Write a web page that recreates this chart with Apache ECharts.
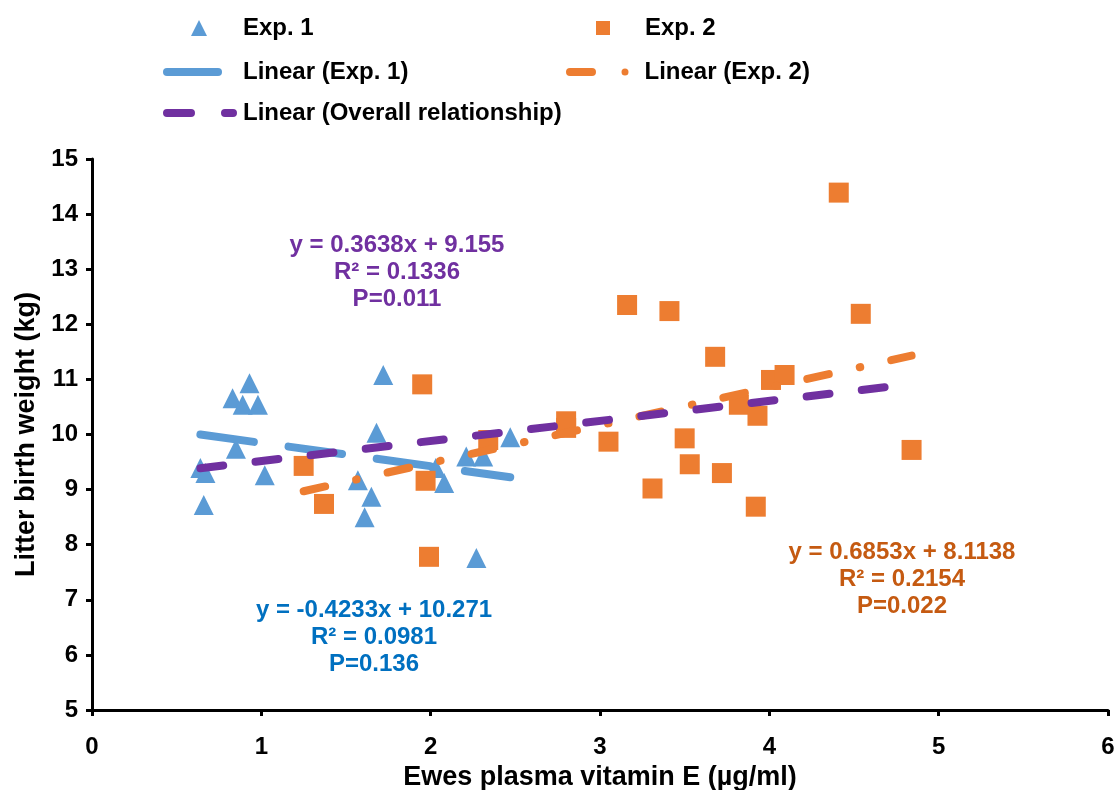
<!DOCTYPE html>
<html><head><meta charset="utf-8">
<script src="https://cdn.jsdelivr.net/npm/echarts@6/dist/echarts.min.js"></script>
<style>html,body{margin:0;padding:0;background:#fff}#c{width:1116px;height:790px}</style>
</head><body><div id="c"></div>
<script>
// Exp. 1 (triangles)
const exp1X = [0.64, 0.67, 0.66, 0.83, 0.93, 0.89, 0.98, 0.85, 1.02, 1.72, 1.68, 1.57, 1.65, 1.61, 2.27, 2.03, 2.08, 2.21, 2.31, 2.47];
const exp1Y = [9.39, 9.30, 8.72, 10.66, 10.93, 10.54, 10.54, 9.74, 9.26, 11.08, 10.03, 9.17, 8.87, 8.50, 7.76, 9.39, 9.12, 9.60, 9.60, 9.95];
// Exp. 2 (squares)
const exp2X = [1.25, 1.37, 1.95, 1.97, 1.99, 2.34, 2.80, 2.80, 3.05, 3.16, 3.41, 3.31, 3.50, 3.53, 3.72, 3.68, 3.82, 3.93, 4.01, 4.09, 3.92, 4.41, 4.54, 4.84];
const exp2Y = [9.43, 8.74, 10.91, 9.16, 7.78, 9.90, 10.24, 10.12, 9.87, 12.35, 12.24, 9.02, 9.93, 9.46, 9.30, 11.41, 10.54, 10.34, 10.99, 11.08, 8.69, 14.39, 12.19, 9.72];
// Trendline coefficients [slope, intercept]
const fitExp1 = [-0.4233, 10.271];
const fitExp2 = [0.6853, 8.1138];
const fitAll = [0.3638, 9.155];
// Annotation texts
const labelsAll = ['y = 0.3638x + 9.155', 'R² = 0.1336', 'P=0.011'];
const labelsExp1 = ['y = -0.4233x + 10.271', 'R² = 0.0981', 'P=0.136'];
const labelsExp2 = ['y = 0.6853x + 8.1138', 'R² = 0.2154', 'P=0.022'];
const seriesNames = ['Exp. 1', 'Exp. 2', 'Linear (Exp. 1)', 'Linear (Exp. 2)', 'Linear (Overall relationship)'];

const BLUE = '#5B9BD5', ORANGE = '#ED7D31', PURPLE = '#7030A0';
const FONT = '"Liberation Sans", Arial, sans-serif';

function pairs(xs, ys) { return xs.map((x, i) => [x, ys[i]]); }
function trend(fit, xs) {
  const lo = Math.min(...xs), hi = Math.max(...xs);
  return [[lo, fit[0] * lo + fit[1]], [hi, fit[0] * hi + fit[1]]];
}
const allX = exp1X.concat(exp2X);

// legend icon shapes (rounded bars / dots)
function bar(x0, x1) {
  return 'M' + (x0 + 4) + ',0 L' + (x1 - 4) + ',0 A4,4 0 0 1 ' + (x1 - 4) + ',8 L' + (x0 + 4) + ',8 A4,4 0 0 1 ' + (x0 + 4) + ',0 Z ';
}
function dot(cx, r) {
  return 'M' + (cx - r) + ',4 A' + r + ',' + r + ' 0 1 0 ' + (cx + r) + ',4 A' + r + ',' + r + ' 0 1 0 ' + (cx - r) + ',4 Z ';
}

const chart = echarts.init(document.getElementById('c'));
const txt = { fontFamily: FONT, fontWeight: 'bold', fontSize: 24, color: '#000' };

function legendItem(name, icon, left, top, w, h, padLeft) {
  return { data: [{ name: name, icon: icon }], left: left, top: top, itemWidth: w, itemHeight: h,
    selectedMode: false, padding: 0, symbolKeepAspect: false,
    textStyle: Object.assign({ padding: [0, 0, 0, padLeft] }, txt) };
}
function annot(lines, cx, cy, color) {
  return lines.map((t, i) => ({ type: 'text', x: cx, y: cy + i * 27, z: 100,
    style: { text: t, fill: color, font: 'bold 24px ' + FONT, textAlign: 'center', textVerticalAlign: 'middle' } }));
}

chart.setOption({
  backgroundColor: '#fff',
  animation: false,
  grid: { left: 92, right: 8, top: 159, bottom: 80, containLabel: false, outerBoundsMode: 'none' },
  legend: [
    legendItem(seriesNames[0], 'triangle', 191, 16, 16, 16, 31),
    legendItem(seriesNames[1], 'rect', 596, 16, 14, 14, 30),
    legendItem(seriesNames[2], 'path://' + bar(0, 59), 163, 60, 59, 8, 16),
    legendItem(seriesNames[3], 'path://' + bar(0, 30) + dot(59, 3.5), 566, 60, 62.5, 8, 11),
    legendItem(seriesNames[4], 'path://' + bar(0, 32) + bar(58, 74), 163, 101, 74, 8, 1)
  ],
  xAxis: {
    type: 'value', min: 0, max: 6, interval: 1,
    axisLine: { lineStyle: { color: '#000', width: 3 } },
    axisTick: { show: true, inside: false, length: 6, lineStyle: { color: '#000', width: 3 } },
    axisLabel: Object.assign({ margin: 25 }, txt),
    splitLine: { show: false },
    name: 'Ewes plasma vitamin E (µg/ml)', nameLocation: 'middle', nameGap: 47,
    nameTextStyle: { fontFamily: FONT, fontWeight: 'bold', fontSize: 27, color: '#000' }
  },
  yAxis: {
    type: 'value', min: 5, max: 15, interval: 1,
    axisLine: { show: true, lineStyle: { color: '#000', width: 3 } },
    axisTick: { show: true, inside: false, length: 6, lineStyle: { color: '#000', width: 3 } },
    axisLabel: Object.assign({ margin: 14 }, txt),
    splitLine: { show: false },
    name: 'Litter birth weight (kg)', nameLocation: 'middle', nameGap: 50, nameRotate: 90,
    nameTextStyle: { fontFamily: FONT, fontWeight: 'bold', fontSize: 27, color: '#000' }
  },
  series: [
    { name: seriesNames[0], type: 'scatter', symbol: 'triangle', symbolSize: 20,
      itemStyle: { color: BLUE, opacity: 1 }, data: pairs(exp1X, exp1Y), z: 2 },
    { name: seriesNames[1], type: 'scatter', symbol: 'rect', symbolSize: 20,
      itemStyle: { color: ORANGE, opacity: 1 }, data: pairs(exp2X, exp2Y), z: 2 },
    { name: seriesNames[2], type: 'line', symbol: 'none', showSymbol: false,
      lineStyle: { color: BLUE, width: 8, type: [54, 35], cap: 'round' },
      itemStyle: { color: BLUE }, data: trend(fitExp1, exp1X), z: 3 },
    { name: seriesNames[3], type: 'line', symbol: 'none', showSymbol: false,
      lineStyle: { color: ORANGE, width: 8, type: [22, 31.75, 0.5, 31.75], cap: 'round' },
      itemStyle: { color: ORANGE }, data: trend(fitExp2, exp2X), z: 4 },
    { name: seriesNames[4], type: 'line', symbol: 'none', showSymbol: false,
      lineStyle: { color: PURPLE, width: 8, type: [23, 32.5], cap: 'round' },
      itemStyle: { color: PURPLE }, data: trend(fitAll, allX), z: 5 }
  ],
  graphic: [].concat(
    annot(labelsAll, 397, 245, '#7030A0'),
    annot(labelsExp1, 374, 610, '#0070C0'),
    annot(labelsExp2, 902, 552, '#C55A11')
  )
});
</script>
</body></html>
